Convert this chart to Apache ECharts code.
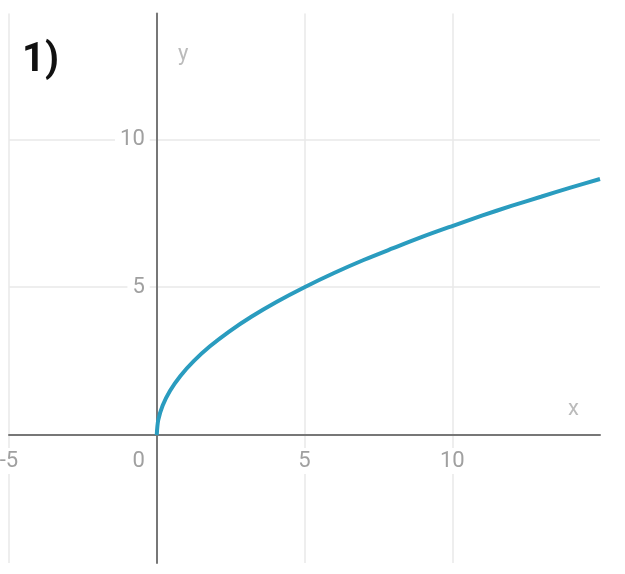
<!DOCTYPE html>
<html>
<head>
<meta charset="utf-8">
<script src="https://cdn.jsdelivr.net/npm/echarts@6/dist/echarts.min.js"></script>
<style>
html,body{margin:0;padding:0;background:#fff;}
#c{width:625px;height:574px;}
</style>
</head>
<body>
<div id="c"></div>
<script>
// values
var xValues = [0, 0.05, 0.2, 0.45, 0.8, 1.25, 1.8, 2.45, 3.2, 4.05, 5, 6, 7, 8, 9, 10, 11, 12, 13, 14, 15];
var yValues = [0, 0.5, 1, 1.5, 2, 2.5, 3, 3.5, 4, 4.5, 5, 5.48, 5.92, 6.32, 6.71, 7.07, 7.42, 7.75, 8.06, 8.37, 8.66];
var xTicks = [-5, 0, 5, 10];
var yTicks = [0, 5, 10];
var yTickLabels = [5, 10];
var titleText = '1)';
var xMin = -5, xMax = 15, yMin = -4.33, yMax = 14.26;

var points = xValues.map(function (x, i) { return [x, yValues[i]]; });

var W = 625, H = 574;
var gl = 9, gr = 25, gt = 13.5, gb = 11;
var gw = W - gl - gr, gh = H - gt - gb;
// shift axes so they sit on the zero lines
var xOffset = -(0 - yMin) / (yMax - yMin) * gh;
var yOffset = -(0 - xMin) / (xMax - xMin) * gw;

var labelFont = 'Roboto, "Noto Sans", sans-serif';
var chart = echarts.init(document.getElementById('c'), null, {renderer: 'canvas'});
chart.setOption({
  animation: false,
  backgroundColor: '#fff',
  title: {
    text: titleText, left: 17, top: 36,
    textStyle: {fontSize: 40, fontWeight: 'bold', color: '#111', fontFamily: labelFont}
  },
  grid: {left: gl, right: gr, top: gt, bottom: gb, containLabel: false, outerBoundsMode: 'none'},
  xAxis: {
    type: 'value', min: xMin, max: xMax, position: 'bottom', offset: xOffset,
    name: 'x', nameLocation: 'end', nameGap: -32,
    nameTextStyle: {color: '#bbb', fontSize: 22, fontFamily: labelFont, verticalAlign: 'bottom', padding: [0, 0, 15, 0]},
    axisLine: {onZero: false, lineStyle: {color: '#777', width: 2}},
    axisTick: {show: false, customValues: xTicks},
    splitLine: {show: true, lineStyle: {color: '#e8e8e8', width: 1.5}},
    axisLabel: {
      customValues: xTicks, margin: 13,
      formatter: function (v) { return v === 0 ? '{z|0}' : '{a|' + v + '}'; },
      rich: {
        a: {fontSize: 22, color: '#a0a0a0', fontFamily: labelFont, backgroundColor: '#fff', padding: [2, 5]},
        z: {fontSize: 22, color: '#a0a0a0', fontFamily: labelFont, padding: [2, 36, 2, 0]}
      }
    }
  },
  yAxis: {
    type: 'value', min: yMin, max: yMax, position: 'left', offset: yOffset,
    name: 'y', nameLocation: 'end', nameGap: -52,
    nameTextStyle: {color: '#bbb', fontSize: 22, fontFamily: labelFont, padding: [0, 0, 0, 53]},
    axisLine: {onZero: false, lineStyle: {color: '#777', width: 2}},
    axisTick: {show: false, customValues: yTicks},
    splitLine: {show: true, lineStyle: {color: '#e8e8e8', width: 1.5}},
    axisLabel: {
      customValues: yTickLabels, margin: 7,
      fontSize: 22, color: '#a0a0a0', fontFamily: labelFont,
      backgroundColor: '#fff', padding: [2, 5]
    }
  },
  series: [{
    type: 'line', data: points, smooth: 0.3, showSymbol: false,
    lineStyle: {color: '#2a9cbf', width: 4},
    z: 1
  }]
});
</script>
</body>
</html>
